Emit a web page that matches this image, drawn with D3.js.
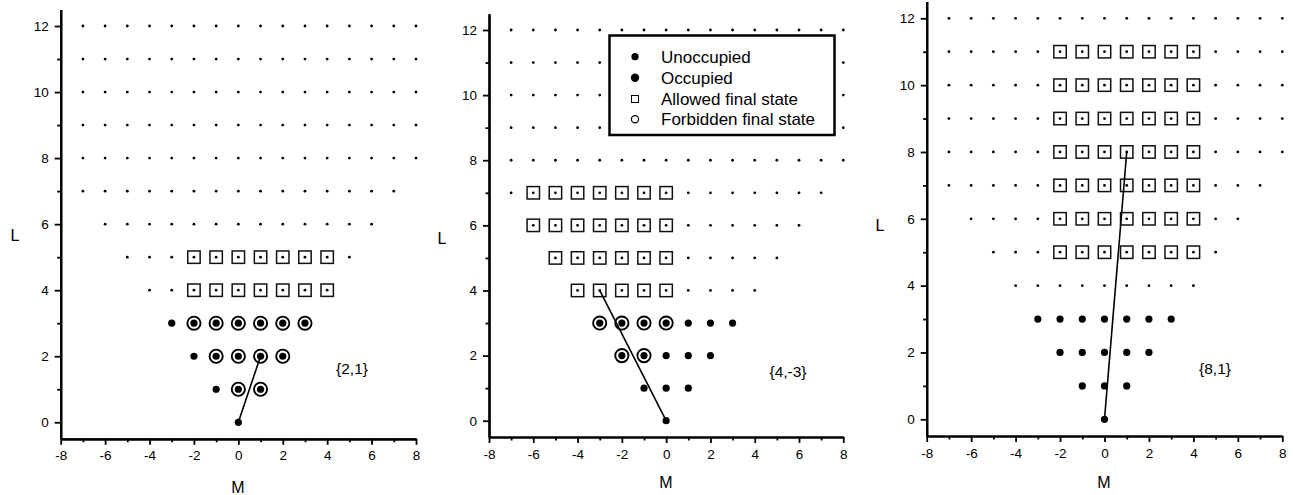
<!DOCTYPE html>
<html>
<head>
<meta charset="utf-8">
<script src="https://cdn.jsdelivr.net/npm/d3@7"></script>
<style>
  body { margin: 0; background: #fff; }
  text { font-family: "Liberation Sans", Arial, Helvetica, sans-serif; fill: #000; }
</style>
</head>
<body>
<div id="chart"></div>
<script>
// lattice rows: L and visible M range on each row
var levels = [0, 1, 2, 3, 4, 5, 6, 7, 8, 9, 10, 11, 12];
var rowMinM = [0, -1, -2, -3, -4, -5, -6, -7, -7, -7, -7, -7, -7];
var rowMaxM = [0, 1, 2, 3, 4, 5, 6, 7, 8, 8, 8, 8, 8];
var occupiedMaxL = 3;

var xTicks = [-8, -6, -4, -2, 0, 2, 4, 6, 8];
var xMinor = [-7, -5, -3, -1, 1, 3, 5, 7];
var yTicks = [0, 2, 4, 6, 8, 10, 12];
var yMinor = [1, 3, 5, 7, 9, 11];

// per panel: transfer {L,M}, rows of forbidden circles and allowed squares [L, Mmin, Mmax]
var panelLabels = ['{2,1}', '{4,-3}', '{8,1}'];
var transferL = [2, 4, 8];
var transferM = [1, -3, 1];
var forbiddenRows = [
    [[3, -2, 3], [2, -1, 2], [1, 0, 1]],
    [[3, -3, 0], [2, -2, -1]],
    []
];
var allowedRows = [
    [[4, -2, 4], [5, -2, 4]],
    [[4, -4, 0], [5, -5, 0], [6, -6, 0], [7, -6, 0]],
    [[5, -2, 4], [6, -2, 4], [7, -2, 4], [8, -2, 4], [9, -2, 4], [10, -2, 4], [11, -2, 4]]
];

var legendNames = ['Unoccupied', 'Occupied', 'Allowed final state', 'Forbidden final state'];

// panel frames (pixels)
var frames = [
    {x0: 60.7, x1: 416, yb: 438.8, yt: 9.5, lx: 15, ly: 235, mx: 238, my: 487, tx: 352, ty: 369},
    {x0: 489, x1: 843.3, yb: 437, yt: 13.7, lx: 442, ly: 238, mx: 666, my: 482, tx: 788, ty: 372},
    {x0: 926.7, x1: 1282.3, yb: 436, yt: 1.6, lx: 880, ly: 225, mx: 1104, my: 482, tx: 1215, ty: 369}
];

function expand(rows) {
    var pts = [];
    rows.forEach(function (r) {
        for (var m = r[1]; m <= r[2]; m++) pts.push({L: r[0], M: m});
    });
    return pts;
}

var lattice = [];
levels.forEach(function (L, i) {
    for (var m = rowMinM[i]; m <= rowMaxM[i]; m++) lattice.push({L: L, M: m});
});

var svg = d3.select('#chart').append('svg')
    .attr('width', 1293)
    .attr('height', 495);

var plain = function (d) { return String(d); };

frames.forEach(function (f, p) {
    var x = d3.scaleLinear().domain([-8, 8]).range([f.x0, f.x1]);
    var y = d3.scaleLinear().domain([-0.5, 12.5]).range([f.yb, f.yt]);
    var g = svg.append('g');

    // small lattice dots
    g.selectAll('circle.dot')
        .data(lattice.filter(function (d) { return d.L > occupiedMaxL; }))
        .enter().append('circle')
        .attr('cx', function (d) { return x(d.M); })
        .attr('cy', function (d) { return y(d.L); })
        .attr('r', 1.4)
        .style('fill', '#000');

    // allowed final states
    g.selectAll('rect.allowed')
        .data(expand(allowedRows[p]))
        .enter().append('rect')
        .attr('x', function (d) { return x(d.M) - 6.2; })
        .attr('y', function (d) { return y(d.L) - 6.2; })
        .attr('width', 12.4)
        .attr('height', 12.4)
        .style('fill', 'none')
        .style('stroke', '#111')
        .style('stroke-width', 1.5);

    // occupied states
    g.selectAll('circle.occ')
        .data(lattice.filter(function (d) { return d.L <= occupiedMaxL; }))
        .enter().append('circle')
        .attr('cx', function (d) { return x(d.M); })
        .attr('cy', function (d) { return y(d.L); })
        .attr('r', 3.6)
        .style('fill', '#000');

    // forbidden final states
    g.selectAll('circle.forb')
        .data(expand(forbiddenRows[p]))
        .enter().append('circle')
        .attr('cx', function (d) { return x(d.M); })
        .attr('cy', function (d) { return y(d.L); })
        .attr('r', 6.6)
        .style('fill', 'none')
        .style('stroke', '#000')
        .style('stroke-width', 1.9);

    // transfer vector
    g.append('line')
        .attr('x1', x(0)).attr('y1', y(0))
        .attr('x2', x(transferM[p])).attr('y2', y(transferL[p]))
        .style('stroke', '#000')
        .style('stroke-width', 1.6);

    // axes: minor ticks in their own groups, then the labelled ones
    g.append('g').attr('transform', 'translate(0,' + f.yb + ')')
        .call(d3.axisBottom(x).tickValues(xMinor).tickSize(3.5).tickSizeOuter(0).tickFormat(''));
    g.append('g').attr('transform', 'translate(0,' + f.yb + ')')
        .call(d3.axisBottom(x).tickValues(xTicks).tickSize(6).tickSizeOuter(0).tickPadding(6).tickFormat(plain));
    g.append('g').attr('transform', 'translate(' + f.x0 + ',0)')
        .call(d3.axisLeft(y).tickValues(yMinor).tickSize(3.5).tickSizeOuter(0).tickFormat(''));
    g.append('g').attr('transform', 'translate(' + f.x0 + ',0)')
        .call(d3.axisLeft(y).tickValues(yTicks).tickSize(6).tickSizeOuter(0).tickPadding(6).tickFormat(plain));
    g.selectAll('.domain').style('stroke', '#000').style('stroke-width', 2.2);
    g.selectAll('.tick line').style('stroke', '#000').style('stroke-width', 1.8);
    g.selectAll('.tick text').style('font-size', '13.5px')
        .style('font-family', '"Liberation Sans", Arial, sans-serif');

    g.append('text').attr('x', f.lx).attr('y', f.ly).attr('dy', '0.35em')
        .attr('text-anchor', 'middle').style('font-size', '16px').text('L');
    g.append('text').attr('x', f.mx).attr('y', f.my).attr('dy', '0.35em')
        .attr('text-anchor', 'middle').style('font-size', '16px').text('M');
    g.append('text').attr('x', f.tx).attr('y', f.ty).attr('dy', '0.35em')
        .attr('text-anchor', 'middle').style('font-size', '15.5px').text(panelLabels[p]);
});

// legend in the middle panel
var lg = svg.append('g');
lg.append('rect')
    .attr('x', 609.5).attr('y', 35.5).attr('width', 225).attr('height', 99.5)
    .style('fill', '#fff').style('stroke', '#000').style('stroke-width', 2.5);
var rowsY = [56.7, 77.7, 99, 119.3];
legendNames.forEach(function (name, i) {
    var cy = rowsY[i];
    if (i === 0) lg.append('circle').attr('cx', 635).attr('cy', cy).attr('r', 3.6).style('fill', '#000');
    if (i === 1) lg.append('circle').attr('cx', 635).attr('cy', cy).attr('r', 4.2).style('fill', '#000');
    if (i === 2) lg.append('rect').attr('x', 631.5).attr('y', cy - 3.5).attr('width', 7).attr('height', 7)
        .style('fill', 'none').style('stroke', '#000').style('stroke-width', 1);
    if (i === 3) lg.append('circle').attr('cx', 635).attr('cy', cy).attr('r', 3.6)
        .style('fill', 'none').style('stroke', '#000').style('stroke-width', 1.2);
    lg.append('text').attr('x', 661).attr('y', cy).attr('dy', '0.35em')
        .style('font-size', '17px').text(name);
});
</script>
</body>
</html>
